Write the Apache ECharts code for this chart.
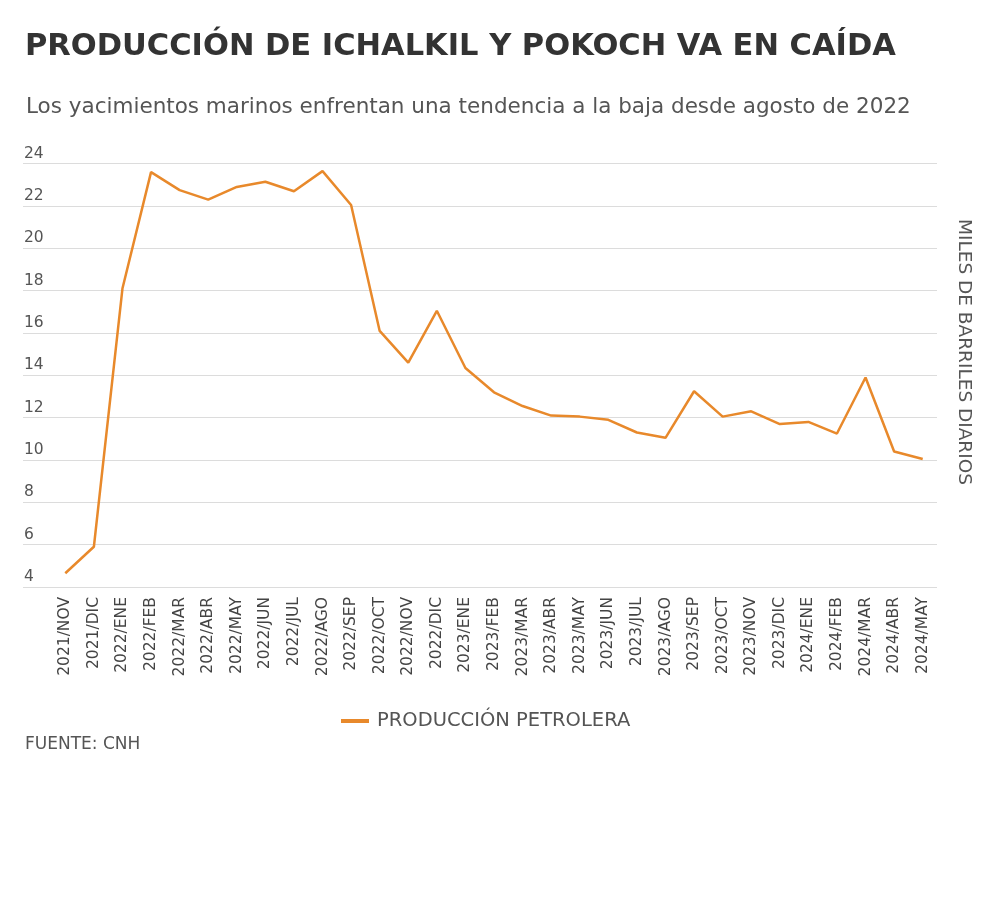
<!DOCTYPE html>
<html>
<head>
<meta charset="utf-8">
<title>Producción de Ichalkil y Pokoch</title>
<script src="https://cdn.jsdelivr.net/npm/echarts@6/dist/echarts.min.js"></script>
<style>
  html, body { margin: 0; padding: 0; background: #fff; }
  #grafico { width: 1000px; height: 897px; }
</style>
</head>
<body>
<div id="grafico"></div>
<script>
// Meses (eje X)
const meses = [
    "2021/NOV", "2021/DIC",
    "2022/ENE", "2022/FEB", "2022/MAR", "2022/ABR", "2022/MAY", "2022/JUN",
    "2022/JUL", "2022/AGO", "2022/SEP", "2022/OCT", "2022/NOV", "2022/DIC",
    "2023/ENE", "2023/FEB", "2023/MAR", "2023/ABR", "2023/MAY", "2023/JUN",
    "2023/JUL", "2023/AGO", "2023/SEP", "2023/OCT", "2023/NOV", "2023/DIC",
    "2024/ENE", "2024/FEB", "2024/MAR", "2024/ABR", "2024/MAY"
];

// Producción petrolera, miles de barriles diarios
const produccion = [
    4.65, 5.9,
    18.1, 23.6, 22.75, 22.3, 22.9, 23.15,
    22.7, 23.65, 22.05, 16.1, 14.6, 17.05,
    14.35, 13.2, 12.55, 12.1, 12.05, 11.9,
    11.3, 11.05, 13.25, 12.05, 12.3, 11.7,
    11.8, 11.25, 13.9, 10.4, 10.05
];

// Eje Y
const yMin = 4;
const yMax = 24;
const yPaso = 2;

const fuente = '"DejaVu Sans", sans-serif';
const naranja = '#E8892B';

const grafico = echarts.init(document.getElementById('grafico'));

grafico.setOption({
    animation: false,
    backgroundColor: '#fff',
    textStyle: { fontFamily: fuente },
    title: [
        {
            text: 'PRODUCCIÓN DE ICHALKIL Y POKOCH VA EN CAÍDA',
            left: 20, top: 27,
            textStyle: { fontSize: 30.5, fontWeight: 'bold', color: '#333', fontFamily: fuente }
        },
        {
            text: 'Los yacimientos marinos enfrentan una tendencia a la baja desde agosto de 2022',
            left: 21, top: 91,
            textStyle: { fontSize: 21.5, fontWeight: 'normal', color: '#555', fontFamily: fuente }
        },
        {
            text: 'FUENTE: CNH',
            left: 20, top: 731,
            textStyle: { fontSize: 17, fontWeight: 'normal', color: '#555', fontFamily: fuente }
        }
    ],
    legend: {
        top: 706,
        left: 336,
        icon: 'rect',
        itemWidth: 28,
        itemHeight: 4,
        itemGap: 10,
        textStyle: { fontSize: 19.5, color: '#555', fontFamily: fuente, padding: [0, 0, 0, 3] },
        data: ['PRODUCCIÓN PETROLERA']
    },
    grid: [
        // cuadrícula completa (líneas y etiquetas del eje Y)
        { left: 23, right: 63, top: 163.7, bottom: 310 },
        // área de la serie
        { left: 51, right: 63, top: 163.7, bottom: 310 }
    ],
    xAxis: [
        { gridIndex: 0, type: 'category', data: meses, show: false },
        {
            gridIndex: 1,
            type: 'category',
            data: meses,
            boundaryGap: true,
            axisLine: { show: false },
            axisTick: { show: false },
            axisLabel: {
                interval: 0,
                rotate: 90,
                margin: 10,
                fontSize: 15.5,
                color: '#444',
                fontFamily: fuente
            }
        }
    ],
    yAxis: [
        {
            gridIndex: 0,
            type: 'value',
            min: yMin, max: yMax, interval: yPaso,
            axisLine: { show: false },
            axisTick: { show: false },
            axisLabel: {
                inside: true,
                verticalAlign: 'bottom',
                margin: 1,
                padding: [0, 0, 2, 0],
                fontSize: 15.5,
                color: '#555',
                fontFamily: fuente
            },
            splitLine: { lineStyle: { color: '#dcdcdc', width: 1 } }
        },
        {
            gridIndex: 1,
            type: 'value',
            min: yMin, max: yMax, interval: yPaso,
            show: false
        }
    ],
    graphic: [
        {
            type: 'text',
            x: 964,
            y: 352,
            rotation: -Math.PI / 2,
            style: {
                text: 'MILES DE BARRILES DIARIOS',
                align: 'center',
                verticalAlign: 'middle',
                fontSize: 18.5,
                fill: '#555',
                fontFamily: fuente
            }
        }
    ],
    series: [
        {
            name: 'PRODUCCIÓN PETROLERA',
            type: 'line',
            xAxisIndex: 1,
            yAxisIndex: 1,
            data: produccion,
            symbol: 'none',
            lineStyle: { color: naranja, width: 2.5 },
            itemStyle: { color: naranja }
        }
    ]
});
</script>
</body>
</html>
